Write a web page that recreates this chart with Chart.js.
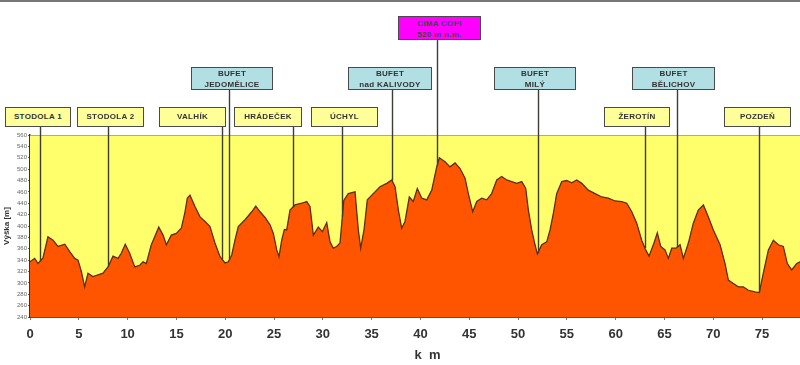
<!DOCTYPE html>
<html><head><meta charset="utf-8">
<script src="https://cdn.jsdelivr.net/npm/chart.js@4/dist/chart.umd.min.js"></script>
<style>
html,body{margin:0;padding:0;background:#fff;overflow:hidden;width:800px;height:365px;}
#wrap{position:relative;width:830px;height:365px;}
#topline{position:absolute;left:0;top:0;width:800px;height:2px;background:#777;z-index:3;}
canvas{position:absolute;left:0;top:0;}
.box{position:absolute;box-sizing:border-box;border:1.5px solid #4a4a4a;font:bold 8px Arial,"Liberation Sans",sans-serif;color:#333;text-align:center;line-height:11px;letter-spacing:0.3px;white-space:pre;z-index:2;}
.y{background:#FFFF99;height:20px;top:107px;padding-top:3px;}
.b{background:#B2DFE3;height:23px;top:67px;padding-top:0px;}
.m{background:#FF00FF;height:24px;top:16px;padding-top:1px;color:#444;}
</style></head>
<body>
<div id="wrap"><div id="topline"></div><canvas id="c" width="830" height="365"></canvas></div>
<script>
// ---- data ----
const distanceKm = [0,0.48,0.82,1.33,1.84,2.36,2.87,3.56,4.07,4.58,4.92,5.26,5.60,5.94,6.45,6.97,7.48,7.99,8.50,9.02,9.35,9.76,10.21,10.73,11.24,11.58,11.92,12.43,12.78,13.19,13.63,13.97,14.48,14.99,15.50,15.85,16.12,16.39,16.91,17.42,17.93,18.44,18.95,19.47,19.98,20.32,20.67,21.00,21.34,22.03,22.72,23.13,23.57,24.08,24.59,24.93,25.28,25.51,25.79,26.06,26.30,26.64,27.15,27.84,28.35,28.69,29.03,29.54,29.95,30.40,30.74,31.08,31.42,31.76,32.15,32.61,33.30,33.64,33.88,34.22,34.56,35.17,35.86,36.55,37.06,37.40,37.74,38.08,38.42,38.86,39.27,39.68,40.13,40.65,41.16,41.67,41.94,42.52,43.03,43.55,44.06,44.57,44.91,45.36,45.77,46.28,46.79,47.30,47.82,48.33,48.84,49.35,49.87,50.38,50.79,51.06,51.40,51.74,51.98,52.43,52.94,53.28,53.62,53.96,54.48,54.99,55.50,56.01,56.53,57.20,57.89,58.58,59.25,59.94,60.63,61.14,61.65,62.16,62.67,63.08,63.42,63.93,64.27,64.62,65.06,65.40,65.75,66.19,66.60,66.94,67.45,67.96,68.47,68.99,69.50,70.01,70.70,71.21,71.55,72.06,72.57,73.08,73.60,74.28,74.72,75.13,75.65,76.16,76.67,77.18,77.59,78.04,78.55,78.89,79.2];
const elevationM = [337,343,334,344,381,375,364,368,355,343,340,320,293,317,311,314,317,328,347,343,352,368,352,328,331,337,334,367,381,398,384,367,384,387,396,422,449,454,434,416,408,399,370,346,335,337,349,375,399,411,425,435,425,415,402,387,358,346,375,394,393,428,437,440,443,434,384,398,390,406,372,361,364,370,445,457,460,393,361,393,446,457,469,475,481,469,428,396,408,451,443,466,449,446,463,504,520,513,504,511,501,484,457,425,443,449,446,457,481,487,481,478,475,478,466,428,393,367,351,367,372,393,422,457,478,480,476,481,475,463,457,451,449,444,443,440,425,405,375,358,347,370,388,364,358,343,361,361,367,343,370,405,428,437,416,393,367,334,305,299,293,293,287,284,283,317,358,375,367,364,334,323,334,337,338];
const xTicksKm = [0,5,10,15,20,25,30,35,40,45,50,55,60,65,70,75,80];
const yTicksM = [240,260,280,300,320,340,360,380,400,420,440,460,480,500,520,540,560];
const markerNames = ["STODOLA 1","STODOLA 2","VALHÍK","BUFET\nJEDOMĚLICE","HRÁDEČEK","ÚCHYL","BUFET\nnad KALIVODY","CIMA COPI\n520 m n.m.","BUFET\nMILÝ","ŽEROTÍN","BUFET\nBĚLICHOV","POZDEŇ"];
const markerKm = [1.0,8.0,19.7,20.4,26.9,32.0,37.1,41.7,52.0,63.0,66.3,74.7];
const markerType = ["stop","stop","stop","bufet","stop","stop","bufet","summit","bufet","stop","bufet","stop"];

// ---- layout (pixels) ----
const boxLeft  = [5,77,159,191,234,311,348,398,494,604,632,724];
const boxRight = [71,144,226,273,302,378,432,481,576,670,715,791];
const boxBottomByType = {stop:127, bufet:90, summit:40};
const classByType = {stop:'y', bufet:'b', summit:'m'};

const wrap = document.getElementById('wrap');
markerNames.forEach((n,i)=>{
  const d = document.createElement('div');
  d.className = 'box ' + classByType[markerType[i]];
  d.style.left = boxLeft[i]+'px';
  d.style.width = (boxRight[i]-boxLeft[i])+'px';
  d.textContent = n;
  wrap.appendChild(d);
});

function profileAt(k){
  for(let i=1;i<distanceKm.length;i++){
    if(distanceKm[i]>=k){
      const t=(k-distanceKm[i-1])/(distanceKm[i]-distanceKm[i-1]);
      return elevationM[i-1]+t*(elevationM[i]-elevationM[i-1]);
    }
  }
  return elevationM[elevationM.length-1];
}

const plotPlugin = {
  id:'plotDecor',
  beforeDatasetsDraw(chart){
    const {ctx, chartArea:a} = chart;
    ctx.save(); ctx.fillStyle='#FFFF6B';
    ctx.fillRect(a.left,a.top,a.right-a.left,a.bottom-a.top);
    ctx.restore();
  },
  afterDatasetsDraw(chart){
    const {ctx, chartArea:a, scales:{x,y}} = chart;
    ctx.save();
    ctx.strokeStyle='#a8a8a8'; ctx.lineWidth=1;
    ctx.beginPath(); ctx.moveTo(a.left,a.top+0.5); ctx.lineTo(a.right,a.top+0.5); ctx.stroke();
    ctx.strokeStyle='#3d3d33'; ctx.lineWidth=1.4;
    markerKm.forEach((k,i)=>{
      const px=Math.round(x.getPixelForValue(k))+0.5;
      const py=y.getPixelForValue(profileAt(k));
      ctx.beginPath(); ctx.moveTo(px, boxBottomByType[markerType[i]]); ctx.lineTo(px, py); ctx.stroke();
    });
    ctx.restore();
  }
};

const font = 'Arial, "Liberation Sans", sans-serif';
new Chart(document.getElementById('c'), {
  type:'line',
  data:{datasets:[{
    data: distanceKm.map((k,i)=>({x:k,y:elevationM[i]})),
    borderColor:'#5e2e12', borderWidth:1.3, backgroundColor:'#FF5500',
    fill:'start', pointRadius:0, tension:0
  }]},
  options:{
    responsive:false, animation:false, devicePixelRatio:1,
    layout:{padding:{top:135,left:0,right:5,bottom:0}},
    plugins:{legend:{display:false}, tooltip:{enabled:false}},
    scales:{
      x:{type:'linear', min:0, max:81.45,
        afterBuildTicks(s){ s.ticks = xTicksKm.map(v=>({value:v})); },
        afterFit(s){ s.height = 48; },
        grid:{display:true, drawOnChartArea:false, drawTicks:true, tickLength:3, color:'#777'},
        border:{display:true, color:'#555', width:1},
        ticks:{autoSkip:false, maxRotation:0, padding:7, color:'#333', font:{family:font, size:13, weight:'bold'}},
        title:{display:true, text:'k  m', color:'#333', font:{family:font, size:13, weight:'bold'}, padding:{top:0,bottom:2}}
      },
      y:{type:'linear', min:240, max:560,
        afterBuildTicks(s){ s.ticks = yTicksM.map(v=>({value:v})); },
        afterFit(s){ s.width = 30; },
        grid:{display:true, drawOnChartArea:false, drawTicks:true, tickLength:2, color:'#666'},
        border:{display:true, color:'#333', width:1.5},
        ticks:{padding:1, color:'#666', font:{family:font, size:6}},
        title:{display:true, text:'Výška [m]', color:'#333', font:{family:font, size:8, weight:'bold'}, padding:{top:2,bottom:0}}
      }
    }
  },
  plugins:[plotPlugin]
});
</script>
</body></html>
